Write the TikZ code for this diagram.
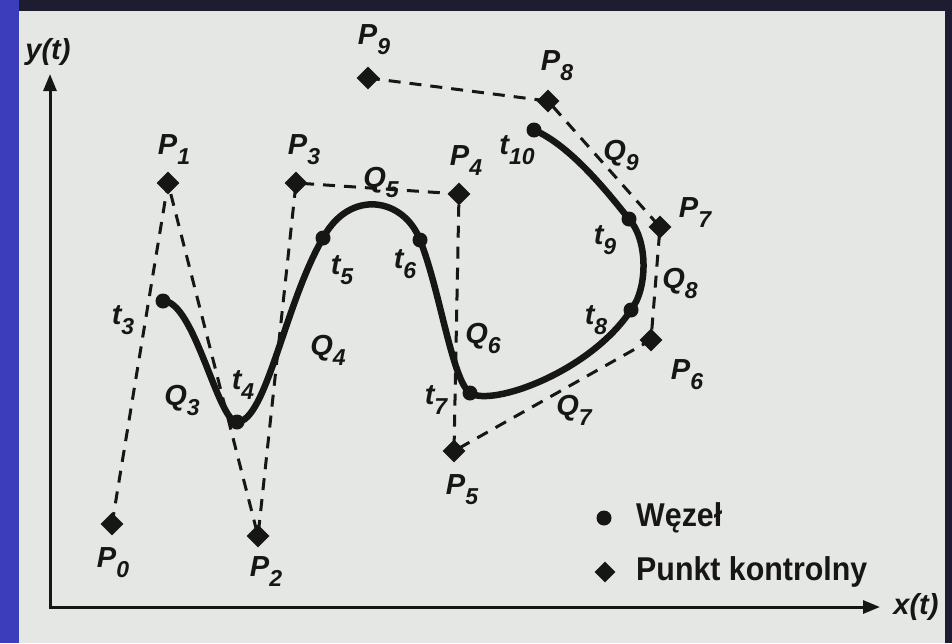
\documentclass[tikz,border=0pt]{standalone}
\usepackage{fontspec}
\setmainfont{Liberation Sans}
\usetikzlibrary{shapes.geometric,arrows.meta}
\pgfdeclarelayer{bg}
\pgfdeclarelayer{mid}
\pgfsetlayers{bg,mid,main}
\definecolor{slide}{HTML}{E5E7E4}
\definecolor{bandblue}{HTML}{3B3DBA}
\definecolor{bandtop}{HTML}{1E1C30}
\definecolor{ink}{HTML}{161614}
\newcommand{\lbl}[2]{{\itshape #1}\raisebox{-10pt}{\fontsize{23}{23}\selectfont\itshape #2}}
\tikzset{
  ctrl/.style={diamond,fill=ink,draw=none,inner sep=0pt,minimum width=23pt,minimum height=23pt},
  knot/.style={circle,fill=ink,draw=none,inner sep=0pt,minimum size=15pt},
  dashline/.style={draw=ink,line width=3pt,dash pattern=on 12pt off 9pt},
  curveline/.style={draw=ink,line width=6.5pt,line cap=round,line join=round},
  axisline/.style={draw=ink,line width=3pt,-{Triangle[length=17pt,width=13pt]}},
  lab/.style={text=ink,inner sep=0pt,font=\fontsize{29}{29}\selectfont\bfseries},
  legtext/.style={text=ink,inner sep=0pt,anchor=west,font=\fontsize{33}{33}\selectfont\bfseries}
}
\begin{document}
\begin{tikzpicture}[x=1pt,y=-1pt]
\useasboundingbox (0,0) rectangle (952,643);
\begin{pgfonlayer}{bg}
  \fill[bandtop] (0,0) rectangle (952,643);
  \fill[slide] (19,11) rectangle (945,643);
  \fill[bandblue] (0,0) rectangle (19,643);
\end{pgfonlayer}

% axes
\coordinate (O) at (50,607);
\coordinate (Ytip) at (50,74);
\coordinate (Xtip) at (880,607);
\draw[axisline] (O) -- (Ytip);
\draw[axisline] ([xshift=-1.5pt]O) -- (Xtip);
\node[lab,font=\fontsize{29}{29}\selectfont\bfseries\itshape] (ylab) at (48,52) {y(t)};
\node[lab,font=\fontsize{29}{29}\selectfont\bfseries\itshape] (xlab) at (916,607) {x(t)};

% control points
\node[ctrl] (P0) at (112,524) {};
\node[ctrl] (P1) at (168,183) {};
\node[ctrl] (P2) at (258,536) {};
\node[ctrl] (P3) at (296,183) {};
\node[ctrl] (P4) at (459,194) {};
\node[ctrl] (P5) at (454,451) {};
\node[ctrl] (P6) at (651,340) {};
\node[ctrl] (P7) at (660,227) {};
\node[ctrl] (P8) at (548,101) {};
\node[ctrl] (P9) at (368,78) {};

% knots
\node[knot] (t3) at (163,301) {};
\node[knot] (t4) at (237,422) {};
\node[knot] (t5) at (323,238) {};
\node[knot] (t6) at (420,240) {};
\node[knot] (t7) at (470,393) {};
\node[knot] (t8) at (631,310) {};
\node[knot] (t9) at (629,219) {};
\node[knot] (t10) at (534,130) {};

\begin{pgfonlayer}{mid}
  \draw[dashline] (P0.center) -- (P1.center) -- (P2.center) -- (P3.center) -- (P4.center)
        -- (P5.center) -- (P6.center) -- (P7.center) -- (P8.center) -- (P9.center);
  \draw[curveline] (t3.center) .. controls (194,300) and (218,422) .. (t4.center)
        .. controls (266,422) and (285,303) .. (t5.center)
        .. controls (350,188) and (404,198) .. (t6.center)
        .. controls (440,290) and (452,380) .. (t7.center)
        .. controls (492,407) and (590,372) .. (t8.center)
        .. controls (648,288) and (648,240) .. (t9.center)
        .. controls (612,198) and (572,146) .. (t10.center);
\end{pgfonlayer}

% control point labels
\node[lab] (lP0) at (113,563) {\lbl{P}{0}};
\node[lab] (lP1) at (174,150) {\lbl{P}{1}};
\node[lab] (lP2) at (266,572) {\lbl{P}{2}};
\node[lab] (lP3) at (304,150) {\lbl{P}{3}};
\node[lab] (lP4) at (466,161) {\lbl{P}{4}};
\node[lab] (lP5) at (462,490) {\lbl{P}{5}};
\node[lab] (lP6) at (687,375) {\lbl{P}{6}};
\node[lab] (lP7) at (695,213) {\lbl{P}{7}};
\node[lab] (lP8) at (557,66) {\lbl{P}{8}};
\node[lab] (lP9) at (374,40) {\lbl{P}{9}};

% knot labels
\node[lab] (lt3) at (123,320) {\lbl{t}{3}};
\node[lab] (lt4) at (243,385) {\lbl{t}{4}};
\node[lab] (lt5) at (342,270) {\lbl{t}{5}};
\node[lab] (lt6) at (405,264) {\lbl{t}{6}};
\node[lab] (lt7) at (436,400) {\lbl{t}{7}};
\node[lab] (lt8) at (596,320) {\lbl{t}{8}};
\node[lab] (lt9) at (605,240) {\lbl{t}{9}};
\node[lab] (lt10) at (517,150) {\lbl{t}{10}};

% segment labels
\node[lab] (lQ3) at (182,400) {\lbl{Q}{3}};
\node[lab] (lQ4) at (328,350) {\lbl{Q}{4}};
\node[lab] (lQ5) at (381,182) {\lbl{Q}{5}};
\node[lab] (lQ6) at (483,338) {\lbl{Q}{6}};
\node[lab] (lQ7) at (574,410) {\lbl{Q}{7}};
\node[lab] (lQ8) at (680,283) {\lbl{Q}{8}};
\node[lab] (lQ9) at (621,155) {\lbl{Q}{9}};

% legend
\node[knot] (legK) at (604,518) {};
\node[legtext] (legKt) at (636,518) {\scalebox{0.92}[1]{Węzeł}};
\node[ctrl,minimum width=21pt,minimum height=21pt] (legC) at (605,572) {};
\node[legtext] (legCt) at (636,572) {\scalebox{0.92}[1]{Punkt kontrolny}};
\end{tikzpicture}
\end{document}
